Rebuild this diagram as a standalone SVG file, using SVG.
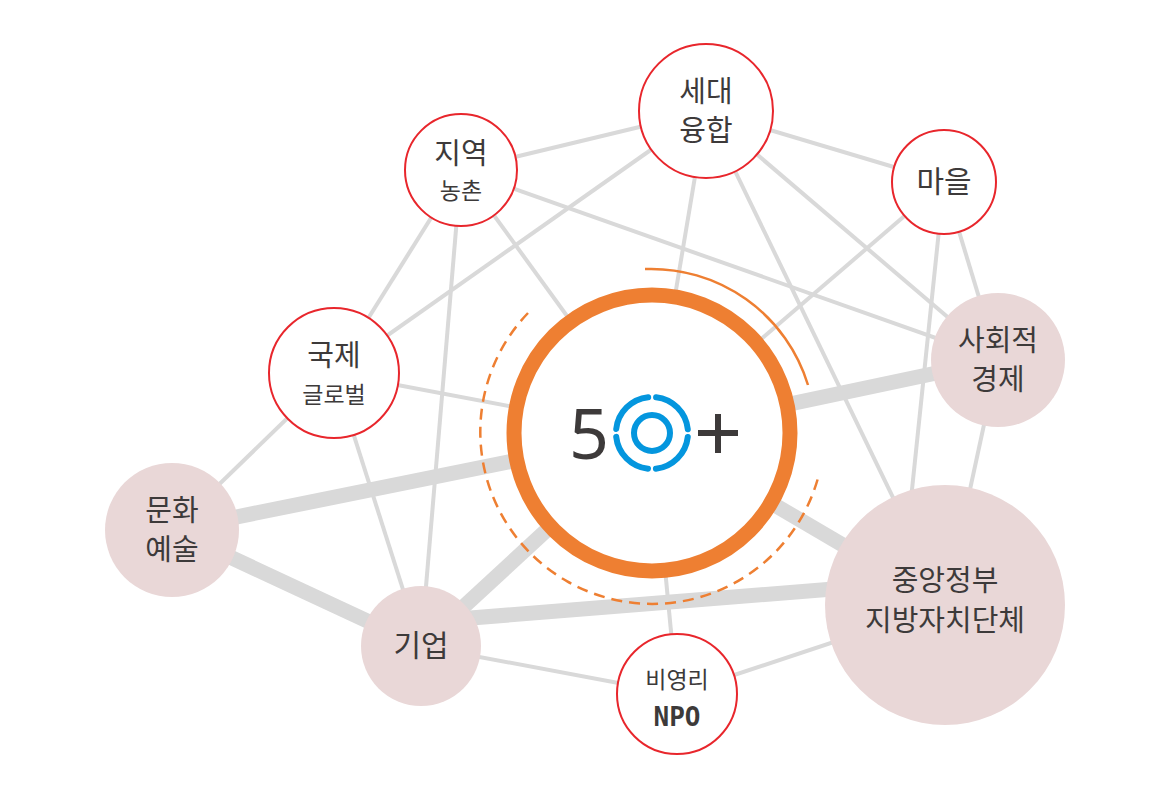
<svg xmlns="http://www.w3.org/2000/svg" width="1170" height="800" viewBox="0 0 1170 800">
<style>
.t{stroke:#d9d9d9;stroke-width:4;fill:none}
.k{stroke:#d9d9d9;stroke-width:15;fill:none}
.w{fill:#fff;stroke:#e8262c;stroke-width:2}
.p{fill:#e9d7d7}
.l{font-family:"Noto Sans CJK KR","Noto Sans",sans-serif;fill:#3d3a3a;text-anchor:middle}
</style>
<rect width="1170" height="800" fill="#fff"/>
<g id="connectors">
<line class="t" x1="461" y1="170" x2="706" y2="111"/>
<line class="t" x1="706" y1="111" x2="944" y2="182"/>
<line class="t" x1="461" y1="170" x2="998" y2="360"/>
<line class="t" x1="706" y1="111" x2="334" y2="373"/>
<line class="t" x1="461" y1="170" x2="334" y2="373"/>
<line class="t" x1="461" y1="170" x2="421" y2="646"/>
<line class="t" x1="461" y1="170" x2="652" y2="433"/>
<line class="t" x1="706" y1="111" x2="652" y2="433"/>
<line class="t" x1="706" y1="111" x2="945" y2="605"/>
<line class="t" x1="706" y1="111" x2="998" y2="360"/>
<line class="t" x1="944" y1="182" x2="652" y2="433"/>
<line class="t" x1="944" y1="182" x2="900" y2="605"/>
<line class="t" x1="944" y1="182" x2="998" y2="360"/>
<line class="t" x1="334" y1="373" x2="652" y2="433"/>
<line class="t" x1="334" y1="373" x2="172" y2="530"/>
<line class="t" x1="334" y1="373" x2="421" y2="646"/>
<line class="t" x1="998" y1="360" x2="945" y2="605"/>
<line class="t" x1="421" y1="646" x2="677" y2="694"/>
<line class="t" x1="677" y1="694" x2="945" y2="605"/>
<line class="t" x1="677" y1="694" x2="652" y2="433"/>
<line class="k" x1="652" y1="433" x2="998" y2="360"/>
<line class="k" x1="652" y1="433" x2="172" y2="530"/>
<line class="k" x1="172" y1="530" x2="421" y2="646"/>
<line class="k" x1="652" y1="433" x2="421" y2="646"/>
<line class="k" x1="652" y1="433" x2="945" y2="605"/>
<line class="k" x1="421" y1="622" x2="945" y2="580"/>
</g>
<g id="n-center">
<circle cx="652" cy="433" r="138" fill="#fff" stroke="#ee7f32" stroke-width="15"/>
<path d="M645 269 A164 164 0 0 1 808 385" fill="none" stroke="#ee7f32" stroke-width="2.5"/>
<path d="M528 313 A172 172 0 1 0 818 478" fill="none" stroke="#ee7f32" stroke-width="2.5" stroke-dasharray="11 7"/>
<text x="589" y="459" font-family="'Noto Sans','Liberation Sans',sans-serif" font-size="70" fill="#3d3a3a" text-anchor="middle">5</text>
<circle cx="652" cy="433" r="36" fill="none" stroke="#0496de" stroke-width="6" stroke-linecap="round" stroke-dasharray="48.5 8" stroke-dashoffset="-4"/>
<circle cx="652" cy="433" r="18" fill="none" stroke="#0496de" stroke-width="6"/>
<path d="M698 433 H738 M718 414 V453" stroke="#3d3a3a" stroke-width="6"/>
</g>
<g id="n-sedae"><circle class="w" cx="706" cy="111" r="67"/><text class="l" font-size="29" x="706" y="102">세대</text><text class="l" font-size="29" x="706" y="141">융합</text></g>
<g id="n-jiyeok"><circle class="w" cx="461" cy="170" r="56"/><text class="l" font-size="29" x="461" y="164">지역</text><text class="l" font-size="23" x="461" y="199">농촌</text></g>
<g id="n-maeul"><circle class="w" cx="944" cy="182" r="52"/><text class="l" font-size="30" x="944" y="192">마을</text></g>
<g id="n-gukje"><circle class="w" cx="334" cy="373" r="65"/><text class="l" font-size="29" x="334" y="366">국제</text><text class="l" font-size="23" x="334" y="403">글로벌</text></g>
<g id="n-social"><circle class="p" cx="998" cy="360" r="67"/><text class="l" font-size="29" x="998" y="351">사회적</text><text class="l" font-size="29" x="998" y="390">경제</text></g>
<g id="n-culture"><circle class="p" cx="172" cy="530" r="67"/><text class="l" font-size="29" x="172" y="521">문화</text><text class="l" font-size="29" x="172" y="560">예술</text></g>
<g id="n-biz"><circle class="p" cx="421" cy="646" r="60"/><text class="l" font-size="30" x="421" y="656">기업</text></g>
<g id="n-gov"><circle class="p" cx="945" cy="605" r="120"/><text class="l" font-size="29" x="945" y="591">중앙정부</text><text class="l" font-size="29" x="945" y="631">지방자치단체</text></g>
<g id="n-npo"><circle class="w" cx="677" cy="694" r="60"/><text class="l" font-size="23" x="677" y="688">비영리</text><text x="677" y="726" font-family="'DejaVu Sans Mono','Liberation Mono',monospace" font-weight="bold" font-size="26" fill="#3d3a3a" text-anchor="middle">NPO</text></g>
</svg>
